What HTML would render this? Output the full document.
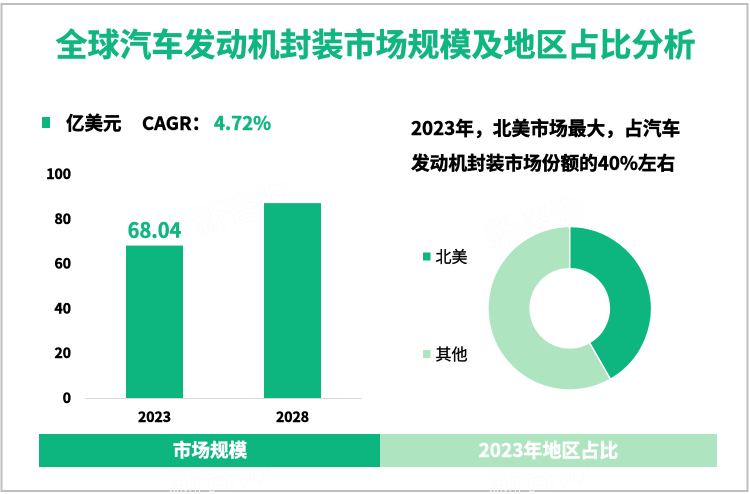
<!DOCTYPE html>
<html lang="zh-CN">
<head>
<meta charset="utf-8">
<title>全球汽车发动机封装市场规模及地区占比分析</title>
<style>
html,body{margin:0;padding:0;background:#fff}
svg{display:block}
text{font-family:"Noto Sans CJK SC","Liberation Sans",sans-serif;font-weight:700}
.heavy{stroke-width:.45;paint-order:stroke}
</style>
</head>
<body>
<svg id="chart" xmlns="http://www.w3.org/2000/svg" width="750" height="494" viewBox="0 0 750 494">
  <rect x="0" y="0" width="750" height="494" fill="#fff"/>
  <rect x="1.5" y="4" width="746" height="487" fill="none" stroke="#bfbfbf" stroke-width="2"/>
  <g fill="none" stroke="#fbfbfb" stroke-width="0.8" font-size="34">
    <text transform="translate(198 236) rotate(-18)">新咨询</text>
    <text transform="translate(490 250) rotate(-18)">新咨询</text>
    <text transform="translate(170 494) rotate(-8)">新咨询</text>
    <text transform="translate(490 494) rotate(-8)">新咨询</text>
  </g>
  <text class="heavy" stroke="#10b581" x="375.5" y="56" font-size="32" fill="#10b581" text-anchor="middle">全球汽车发动机封装市场规模及地区占比分析</text>
  <rect x="42" y="117" width="8" height="11" fill="#0db57f"/>
  <text class="heavy" stroke="#000" x="66" y="130" font-size="18.5" fill="#000">亿美元</text>
  <text class="heavy" stroke="#000" x="142" y="130" font-size="18.5" fill="#000">CAGR：</text>
  <text class="heavy" stroke="#10b581" x="214" y="130" font-size="18.7" fill="#10b581">4.72%</text>
  <text class="heavy" stroke="#000" x="411" y="135" font-size="18.75" fill="#000">2023年，北美市场最大，占汽车</text>
  <text class="heavy" stroke="#000" x="411" y="170" font-size="18.7" fill="#000">发动机封装市场份额的40%左右</text>
  <g id="bar-chart"></g>
  <g id="donut-chart"></g>
  <rect x="39" y="434" width="341" height="33" fill="#0db57f"/>
  <text class="heavy" stroke="#fff" x="210" y="457" font-size="18.6" fill="#fff" text-anchor="middle">市场规模</text>
  <rect x="380" y="434" width="337" height="33" fill="#aee5c0"/>
  <text class="heavy" stroke="#fff" x="548.5" y="457" font-size="19" fill="#fff" text-anchor="middle">2023年地区占比</text>
</svg>
<script>
const years = ['2023', '2028'];
const marketSize = [68.04, 87];
const printedValues = ['68.04', ''];
const yTicks = [0, 20, 40, 60, 80, 100];
const regions = ['北美', '其他'];
const regionShare = [41.7, 58.3];

const NS = 'http://www.w3.org/2000/svg';
const GREEN = '#0db57f';
const regionColors = [GREEN, '#aee5c0'];

function make(parent, tag, attrs, content) {
  const el = document.createElementNS(NS, tag);
  for (const key in attrs) el.setAttribute(key, attrs[key]);
  if (content !== undefined) el.textContent = content;
  parent.appendChild(el);
  return el;
}

const barGroup = document.getElementById('bar-chart');
const plotLeft = 85.5, plotRight = 361.5, plotBottom = 398, plotTop = 174;
const bandWidth = (plotRight - plotLeft) / years.length;
const barWidth = 57;
const yScale = v => plotBottom - (v / 100) * (plotBottom - plotTop);
const xCenter = i => plotLeft + bandWidth * (i + 0.5);

yTicks.forEach(t => {
  const label = make(barGroup, 'text', {x: 71, y: yScale(t) + 5, 'font-size': 14, 'text-anchor': 'end', fill: '#000', stroke: '#000', 'class': 'heavy'}, String(t));
  
  
});

years.forEach((year, i) => {
  const bar = make(barGroup, 'rect', {x: xCenter(i) - barWidth / 2, y: yScale(marketSize[i]), width: barWidth, height: plotBottom - yScale(marketSize[i]), fill: GREEN});
  
  
  const xLabel = make(barGroup, 'text', {x: xCenter(i), y: 422, 'font-size': 14, 'text-anchor': 'middle', fill: '#000', stroke: '#000', 'class': 'heavy'}, year);
  
  
  if (printedValues[i]) {
    const valueLabel = make(barGroup, 'text', {x: xCenter(i), y: yScale(marketSize[i]) - 8, 'font-size': 20, 'text-anchor': 'middle', fill: '#10b581', stroke: '#10b581', 'class': 'heavy'}, printedValues[i]);
    
    
  }
});

const axisLine = make(barGroup, 'line', {x1: plotLeft, x2: plotRight, y1: plotBottom + 0.5, y2: plotBottom + 0.5, stroke: '#d9d9d9', 'stroke-width': 1});



const donutGroup = document.getElementById('donut-chart');
const cx = 569.7, cy = 308.3, outerR = 81.8, innerR = 39.6;
const total = regionShare.reduce((a, b) => a + b, 0);
const point = (r, frac) => {
  const a = frac * 2 * Math.PI;
  return (cx + r * Math.sin(a)).toFixed(2) + ' ' + (cy - r * Math.cos(a)).toFixed(2);
};
let running = 0;
regionShare.forEach((share, i) => {
  const from = running / total;
  running += share;
  const to = running / total;
  const large = to - from > 0.5 ? 1 : 0;
  const d = 'M' + point(outerR, from) +
    ' A' + outerR + ' ' + outerR + ' 0 ' + large + ' 1 ' + point(outerR, to) +
    ' L' + point(innerR, to) +
    ' A' + innerR + ' ' + innerR + ' 0 ' + large + ' 0 ' + point(innerR, from) + ' Z';
  const slice = make(donutGroup, 'path', {d: d, fill: regionColors[i], stroke: '#fff', 'stroke-width': 1.5});
  
  
});

const legendY = [256.5, 354];
regions.forEach((name, i) => {
  const swatch = make(donutGroup, 'rect', {x: 423, y: legendY[i] - 4, width: 7.5, height: 8, fill: regionColors[i]});
  
  
  const label = make(donutGroup, 'text', {x: 435.5, y: legendY[i] + 6, 'font-size': 16, fill: '#000', style: 'font-weight:400;stroke:#000;stroke-width:.3'}, name);
  
  
});
</script>
</body>
</html>
